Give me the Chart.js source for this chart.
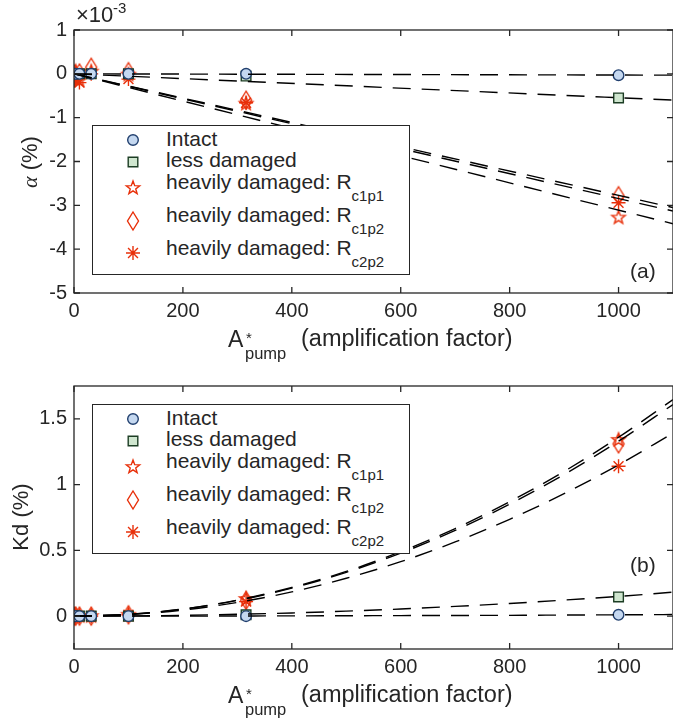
<!DOCTYPE html>
<html>
<head>
<meta charset="utf-8">
<script src="https://cdn.jsdelivr.net/npm/chart.js@4/dist/chart.umd.min.js"></script>
<style>
  body { margin: 0; background: #fff; }
  #wrap { position: relative; width: 673px; height: 722px; overflow: hidden;
          font-family: "Liberation Sans", Arial, sans-serif; color: #262626; }
  #wrap canvas.chart { position: absolute; left: 0; }
  .t { position: absolute; white-space: nowrap; line-height: 1; }
  .box { position: absolute; border: 1.5px solid #262626; background: #fff; box-sizing: border-box; }
  .rot { position: absolute; text-align: center; transform: rotate(-90deg); white-space: nowrap; }
</style>
</head>
<body>
<div id="wrap">
  <canvas id="alphaChart" class="chart" width="673" height="361" style="top:0"></canvas>
  <canvas id="kdChart" class="chart" width="673" height="361" style="top:361px"></canvas>
</div>
<script>
// amplification factors where the markers sit
const ampX = [1, 3.16, 10, 31.6, 100, 316, 1000];

// alpha (x 10^-3 %)
const alphaIntact = [0, 0, 0, 0, 0, 0, -0.03];
const alphaLess = [0, 0, 0, 0, 0, -0.05, -0.55];
const alphaC1p1 = [-0.1, 0.05, -0.15, 0.05, -0.02, -0.68, -3.28];
const alphaC1p2 = [0, -0.05, 0.02, 0.15, 0.05, -0.6, -2.78];
const alphaC2p2 = [-0.15, -0.1, -0.2, 0, -0.12, -0.66, -2.94];

// dashed fit lines, alpha
const alphaFitX = [0, 1100];
const alphaFitIntact = [0, -0.03];
const alphaFitLess = [0, -0.6];
const alphaFitC1p1 = [0, -3.42];
const alphaFitC1p2 = [0, -3.05];
const alphaFitC2p2 = [0, -3.13];

// Kd (%)
const kdIntact = [0, 0, 0, 0, 0, 0, 0.01];
const kdLess = [0, 0, 0, 0, 0, 0.01, 0.146];
const kdC1p1 = [0, 0, 0, 0, 0.01, 0.13, 1.34];
const kdC1p2 = [0, 0, 0, 0, 0.01, 0.12, 1.31];
const kdC2p2 = [0, 0, 0, 0, 0.01, 0.11, 1.14];

// dashed fit curves, Kd
const kdFitX = [0, 100, 200, 300, 400, 500, 600, 700, 800, 900, 1000, 1100];
const kdFitIntact = [0, 0, 0, 0.001, 0.002, 0.003, 0.004, 0.005, 0.006, 0.008, 0.01, 0.012];
const kdFitLess = [0, 0.002, 0.006, 0.014, 0.024, 0.038, 0.054, 0.074, 0.096, 0.122, 0.15, 0.182];
const kdFitC1p1 = [0, 0.014, 0.054, 0.122, 0.218, 0.34, 0.49, 0.666, 0.87, 1.1, 1.36, 1.646];
const kdFitC1p2 = [0, 0.013, 0.053, 0.12, 0.213, 0.333, 0.479, 0.652, 0.851, 1.077, 1.33, 1.609];
const kdFitC2p2 = [0, 0.012, 0.046, 0.104, 0.184, 0.288, 0.414, 0.564, 0.736, 0.932, 1.15, 1.392];

const xTicks = [0, 200, 400, 600, 800, 1000];
const alphaTicks = [-5, -4, -3, -2, -1, 0, 1];
const kdTicks = [0, 0.5, 1, 1.5];

const legendNames = ["Intact", "less damaged", "heavily damaged: R", "heavily damaged: R", "heavily damaged: R"];
const legendSubs = ["", "", "c1p1", "c1p2", "c2p2"];

const RED = "#e8300a";
const AXIS = "#262626";
const FONT = '"Liberation Sans", Arial, sans-serif';

// custom marker shapes
function drawMarker(ctx, kind, cx, cy) {
  ctx.save();
  ctx.lineWidth = 1.4;
  ctx.beginPath();
  if (kind === "circle") {
    ctx.arc(cx, cy, 5.3, 0, Math.PI * 2);
    ctx.fillStyle = "#c5d8f0"; ctx.fill();
    ctx.strokeStyle = "#22406f"; ctx.stroke();
  } else if (kind === "square") {
    ctx.rect(cx - 4.8, cy - 4.8, 9.6, 9.6);
    ctx.fillStyle = "#cfe6cf"; ctx.fill();
    ctx.strokeStyle = "#1c3d24"; ctx.stroke();
  } else if (kind === "star5") {
    for (let i = 0; i < 10; i++) {
      const r = i % 2 === 0 ? 7 : 2.9;
      const a = -Math.PI / 2 + i * Math.PI / 5;
      const px = cx + r * Math.cos(a), py = cy + r * Math.sin(a);
      if (i === 0) ctx.moveTo(px, py); else ctx.lineTo(px, py);
    }
    ctx.closePath();
    ctx.strokeStyle = RED; ctx.stroke();
  } else if (kind === "diamond") {
    ctx.moveTo(cx, cy - 9); ctx.lineTo(cx + 5.5, cy); ctx.lineTo(cx, cy + 9); ctx.lineTo(cx - 5.5, cy);
    ctx.closePath();
    ctx.strokeStyle = RED; ctx.stroke();
  } else if (kind === "asterisk") {
    for (let i = 0; i < 4; i++) {
      const a = i * Math.PI / 4;
      ctx.moveTo(cx - 7 * Math.cos(a), cy - 7 * Math.sin(a));
      ctx.lineTo(cx + 7 * Math.cos(a), cy + 7 * Math.sin(a));
    }
    ctx.strokeStyle = RED; ctx.stroke();
  }
  ctx.restore();
}

function markerCanvas(kind) {
  const c = document.createElement("canvas");
  c.width = 20; c.height = 22;
  drawMarker(c.getContext("2d"), kind, 10, 11);
  return c;
}

const starImg = markerCanvas("star5");
const diamondImg = markerCanvas("diamond");
const legendKinds = ["circle", "square", "star5", "diamond", "asterisk"];

const pts = (xs, ys) => xs.map((x, i) => ({ x, y: ys[i] }));

function fitSet(xs, ys) {
  return {
    data: pts(xs, ys), showLine: true, pointRadius: 0, borderColor: "#000",
    borderWidth: 1.4, borderDash: [18, 11], cubicInterpolationMode: "monotone", fill: false
  };
}

function markerSets(series) {
  return [
    { data: pts(ampX, series[0]), pointStyle: "circle", pointRadius: 5.3, backgroundColor: "#c5d8f0", borderColor: "#22406f", borderWidth: 1.4 },
    { data: pts(ampX, series[1]), pointStyle: "rect", pointRadius: 6.8, backgroundColor: "#cfe6cf", borderColor: "#1c3d24", borderWidth: 1.4 },
    { data: pts(ampX, series[2]), pointStyle: starImg },
    { data: pts(ampX, series[3]), pointStyle: diamondImg },
    { data: pts(ampX, series[4]), pointStyle: "star", pointRadius: 7, borderColor: RED, borderWidth: 1.4 },
  ];
}

// box round the plot with inward ticks on all four sides
const framePlugin = {
  id: "frame",
  afterDatasetsDraw(chart) {
    const { ctx, chartArea: a, scales } = chart;
    ctx.save();
    ctx.strokeStyle = AXIS;
    ctx.lineWidth = 1.3;
    ctx.strokeRect(a.left, a.top, a.right - a.left, a.bottom - a.top);
    ctx.beginPath();
    scales.x.ticks.forEach((t) => {
      const px = scales.x.getPixelForValue(t.value);
      ctx.moveTo(px, a.bottom); ctx.lineTo(px, a.bottom - 6);
      ctx.moveTo(px, a.top); ctx.lineTo(px, a.top + 6);
    });
    scales.y.ticks.forEach((t) => {
      const py = scales.y.getPixelForValue(t.value);
      ctx.moveTo(a.left, py); ctx.lineTo(a.left + 6, py);
      ctx.moveTo(a.right, py); ctx.lineTo(a.right - 6, py);
    });
    ctx.stroke();
    ctx.restore();
  },
};

function makeChart(id, datasets, yMin, yMax, yTicks, padTop, xAxisHeight) {
  return new Chart(document.getElementById(id), {
    type: "scatter",
    data: { datasets },
    options: {
      responsive: false,
      animation: false,
      layout: { autoPadding: false, padding: { top: padTop, left: 0, right: 0, bottom: 0 } },
      plugins: { legend: { display: false }, tooltip: { enabled: false } },
      scales: {
        x: {
          type: "linear", min: 0, max: 1100,
          afterBuildTicks: (s) => { s.ticks = xTicks.map((v) => ({ value: v })); },
          afterFit: (s) => { s.height = xAxisHeight; s.paddingLeft = 0; s.paddingRight = 0; },
          grid: { display: false, drawTicks: false },
          border: { display: false },
          ticks: { color: AXIS, padding: 6, maxRotation: 0, callback: (v) => String(v), font: { family: FONT, size: 20 } },
        },
        y: {
          min: yMin, max: yMax,
          afterBuildTicks: (s) => { s.ticks = yTicks.map((v) => ({ value: v })); },
          afterFit: (s) => { s.width = 74; s.paddingTop = 0; s.paddingBottom = 0; },
          grid: { display: false, drawTicks: false },
          border: { display: false },
          ticks: { color: AXIS, padding: 7, callback: (v) => String(v), font: { family: FONT, size: 20 } },
        },
      },
    },
    plugins: [framePlugin],
  });
}

makeChart("alphaChart", [
  fitSet(alphaFitX, alphaFitIntact), fitSet(alphaFitX, alphaFitLess),
  fitSet(alphaFitX, alphaFitC1p1), fitSet(alphaFitX, alphaFitC1p2), fitSet(alphaFitX, alphaFitC2p2),
  ...markerSets([alphaIntact, alphaLess, alphaC1p1, alphaC1p2, alphaC2p2]),
], -5, 1, alphaTicks, 30, 68);

makeChart("kdChart", [
  fitSet(kdFitX, kdFitIntact), fitSet(kdFitX, kdFitLess),
  fitSet(kdFitX, kdFitC1p1), fitSet(kdFitX, kdFitC1p2), fitSet(kdFitX, kdFitC2p2),
  ...markerSets([kdIntact, kdLess, kdC1p1, kdC1p2, kdC2p2]),
], -0.25, 1.75, kdTicks, 25, 73);

// text overlays
const wrap = document.getElementById("wrap");
function put(html, x, baseline, size, extra) {
  const el = document.createElement("div");
  el.className = "t";
  el.style.left = x + "px";
  el.style.top = (baseline - 0.8465 * size) + "px";
  el.style.fontSize = size + "px";
  if (extra) Object.assign(el.style, extra);
  el.innerHTML = html;
  wrap.appendChild(el);
  return el;
}

function rotTitle(html, cx, cy, size) {
  const el = document.createElement("div");
  el.className = "rot";
  el.style.width = "200px"; el.style.height = size + 4 + "px";
  el.style.lineHeight = size + 4 + "px";
  el.style.left = cx - 100 + "px"; el.style.top = cy - (size + 4) / 2 + "px";
  el.style.fontSize = size + "px";
  el.innerHTML = html;
  wrap.appendChild(el);
}

function xTitle(dy) {
  put("A", 228, 347 + dy, 23);
  put("*", 246, 343 + dy, 15);
  put("pump", 245, 359 + dy, 16.5);
  put("(amplification factor)", 301, 347 + dy, 23.5);
}

function legend(dy) {
  const box = document.createElement("div");
  box.className = "box";
  Object.assign(box.style, { left: "92px", top: 125 + dy + "px", width: "318px", height: "150px" });
  wrap.appendChild(box);
  const baselines = [146, 167, 189, 222, 255];
  const markY = [140, 162, 188, 221, 253];
  legendNames.forEach((name, i) => {
    const el = put(name, 166, baselines[i] + dy, 21);
    if (legendSubs[i]) {
      const s = document.createElement("span");
      s.textContent = legendSubs[i];
      Object.assign(s.style, { fontSize: "15px", position: "relative", top: "12px" });
      el.appendChild(s);
    }
    const c = markerCanvas(legendKinds[i]);
    Object.assign(c.style, { position: "absolute", left: 133 - 10 + "px", top: markY[i] + dy - 11 + "px" });
    wrap.appendChild(c);
  });
}

put("&times;10", 76, 23, 22);
put("-3", 113, 13, 15);
rotTitle('<span style="font-family:\'Liberation Serif\',serif;font-style:italic">&alpha;</span> (%)', 30, 162, 22);
xTitle(0);
legend(0);
put("(a)", 630, 278, 21);

rotTitle("Kd (%)", 21, 517, 22);
xTitle(356);
legend(279);
put("(b)", 630, 572, 21);
</script>
</body>
</html>
